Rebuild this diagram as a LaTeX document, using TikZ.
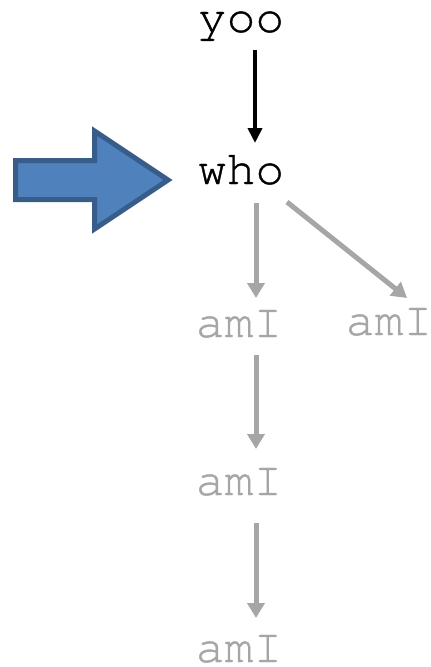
\documentclass[tikz,border=0pt]{standalone}
\usepackage{fontspec}
\newfontfamily\codefont[FakeBold=0.8]{texgyrecursor-regular.otf}
\usepackage{tikz}
\usetikzlibrary{arrows.meta}

\definecolor{pointfill}{HTML}{4F81BD}
\definecolor{pointline}{HTML}{385D8A}
\definecolor{faded}{HTML}{A6A6A6}

\begin{document}
\begin{tikzpicture}[
    x=1pt, y=-1pt,
    word/.style={
        anchor=base,
        inner sep=0pt,
        font=\codefont\fontsize{48}{50}\selectfont
    },
    done/.style={word, text=black},
    todo/.style={word, text=faded},
    blackarrow/.style={-{Triangle[length=15pt, width=14pt]}, line width=4pt, black},
    grayarrow/.style={-{Triangle[length=15pt, width=17pt]}, line width=5pt, faded},
    pointer/.style={draw=pointline, fill=pointfill, line width=5pt, miter limit=10}
]
\useasboundingbox (0,0) rectangle (431,667);

% Words of the call chain
\node[done] (yoo) at (241,32) {yoo};
\node[done] (who) at (241,184) {who};
\node[todo] (amIa) at (239,337) {amI};
\node[todo] (amIr) at (389,335) {amI};
\node[todo] (amIb) at (239,495) {amI};
\node[todo] (amIc) at (239,662) {amI};

% Current position
\draw[pointer] (15.5,160.5) -- (94.5,160.5) -- (94.5,131) -- (168,180)
    -- (94.5,229) -- (94.5,199.5) -- (15.5,199.5) -- cycle;

% Arrows
\draw[blackarrow] ([shift={(14,18)}]yoo.base) -- ([shift={(14,-41)}]who.base);
\draw[grayarrow] ([shift={(15,19)}]who.base) -- ([shift={(17,-39)}]amIa.base);
\draw[grayarrow] ([shift={(46,18)}]who.base) -- ([shift={(18,-37)}]amIr.base);
\draw[grayarrow] ([shift={(17,18)}]amIa.base) -- ([shift={(17,-46)}]amIb.base);
\draw[grayarrow] ([shift={(17,28)}]amIb.base) -- ([shift={(17,-44)}]amIc.base);

\end{tikzpicture}
\end{document}
